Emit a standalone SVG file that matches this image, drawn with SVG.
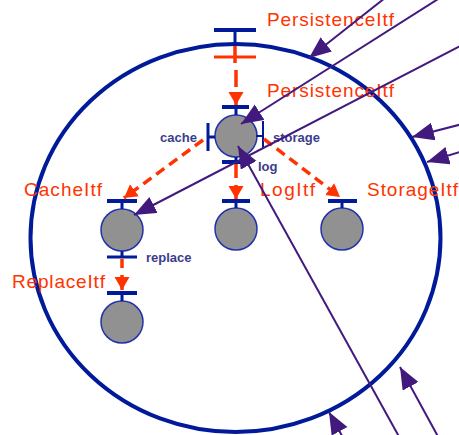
<svg xmlns="http://www.w3.org/2000/svg" width="459" height="435" viewBox="0 0 459 435">
<style>
.bar{stroke:#001a99;stroke-width:4;fill:none}
.stem{stroke:#001a99;stroke-width:3;fill:none}
.node{fill:#919191;stroke:#2233aa;stroke-width:1.5}
.red{stroke:#ff3300;stroke-width:3.5;fill:none}
.dash{stroke:#ff3300;stroke-width:3.5;fill:none;stroke-dasharray:10 6}
.itf{font-family:"Liberation Sans",Arial,sans-serif;font-size:19px;fill:#ff3300}
.port{font-family:"Liberation Sans",Arial,sans-serif;font-size:13px;font-weight:bold;fill:#3c3c8c}
.pl{stroke:#421a7e;stroke-width:2;fill:none}
</style>
<defs>
<marker id="pa" markerUnits="userSpaceOnUse" markerWidth="23" markerHeight="19" refX="22" refY="9" orient="auto"><path d="M0,0 L22,9 L0,18 z" fill="#421a7e"/></marker>
<marker id="ra" markerUnits="userSpaceOnUse" markerWidth="14" markerHeight="16" refX="13" refY="7.5" orient="auto"><path d="M0,0 L13,7.5 L0,15 z" fill="#ff3300"/></marker>
</defs>
<g id="composite">
<ellipse cx="235.5" cy="238" rx="205" ry="194" fill="none" stroke="#001a99" stroke-width="4"/>
<line class="bar" x1="214" y1="30" x2="256" y2="30"/>
<line class="stem" x1="235" y1="32" x2="235" y2="43"/>
<line class="red" x1="235" y1="46" x2="235" y2="63"/>
<line x1="214" y1="57" x2="256" y2="57" stroke="#ff3300" stroke-width="3"/>
</g>
<g id="persistence">
<circle class="node" cx="236" cy="136" r="21"/>
<line class="bar" x1="222" y1="107" x2="249" y2="107"/>
<line class="stem" x1="236" y1="109" x2="236" y2="115"/>
<line class="stem" x1="208" y1="123" x2="208" y2="151"/>
<line class="stem" x1="208" y1="137" x2="215" y2="137"/>
<line x1="263" y1="121" x2="263" y2="148" stroke="#001a99" stroke-width="2"/>
<line x1="256" y1="136" x2="263" y2="136" stroke="#001a99" stroke-width="2"/>
<line class="stem" x1="236" y1="157" x2="236" y2="162"/>
<line class="bar" x1="222" y1="162" x2="249" y2="162"/>
</g>
<g id="cache">
<circle class="node" cx="122" cy="230" r="21"/>
<line class="bar" x1="107" y1="201" x2="137" y2="201"/>
<line class="stem" x1="122" y1="203" x2="122" y2="209"/>
<line class="stem" x1="122" y1="251" x2="122" y2="257"/>
<line class="stem" x1="107" y1="257" x2="137" y2="257"/>
</g>
<g id="replace">
<circle class="node" cx="122" cy="322" r="21"/>
<line class="bar" x1="107" y1="293" x2="137" y2="293"/>
<line class="stem" x1="122" y1="295" x2="122" y2="301"/>
</g>
<g id="log">
<circle class="node" cx="236" cy="229" r="21"/>
<line class="bar" x1="222" y1="201" x2="250" y2="201"/>
<line class="stem" x1="236" y1="203" x2="236" y2="208"/>
</g>
<g id="storage">
<circle class="node" cx="342" cy="229" r="21"/>
<line class="bar" x1="328" y1="201" x2="357" y2="201"/>
<line class="stem" x1="342" y1="203" x2="342" y2="208"/>
</g>
<g id="bindings">
<path class="red" d="M236,70 V87"/>
<path class="red" d="M236,92 V105" marker-end="url(#ra)"/>
<path class="red" d="M236,164 V178"/>
<path class="red" d="M236,185 V199" marker-end="url(#ra)"/>
<path class="dash" d="M203,140 L124,198" marker-end="url(#ra)"/>
<path class="dash" d="M264,139 L340,197" marker-end="url(#ra)"/>
<path class="red" d="M122,259 V268"/>
<path class="red" d="M122,275 V290" marker-end="url(#ra)"/>
</g>
<g id="labels">
<text class="itf" x="267" y="26" textLength="127" lengthAdjust="spacing">PersistenceItf</text>
<text class="itf" x="267" y="97" textLength="127" lengthAdjust="spacing">PersistenceItf</text>
<text class="itf" x="24" y="196" textLength="78" lengthAdjust="spacing">CacheItf</text>
<text class="itf" x="260" y="196" textLength="55" lengthAdjust="spacing">LogItf</text>
<text class="itf" x="367" y="196" textLength="91" lengthAdjust="spacing">StorageItf</text>
<text class="itf" x="12" y="288" textLength="93" lengthAdjust="spacing">ReplaceItf</text>
<text class="port" x="160" y="142">cache</text>
<text class="port" x="273" y="142">storage</text>
<text class="port" x="258" y="171">log</text>
<text class="port" x="146" y="262">replace</text>
</g>
<g id="connectors">
<line class="pl" x1="390" y1="-6" x2="309" y2="58" marker-end="url(#pa)"/>
<line class="pl" x1="446" y1="-6" x2="241" y2="124" marker-end="url(#pa)"/>
<line class="pl" x1="470" y1="41" x2="134" y2="215" marker-end="url(#pa)"/>
<line class="pl" x1="402" y1="442" x2="238" y2="146" marker-end="url(#pa)"/>
<line class="pl" x1="441" y1="442" x2="400" y2="367" marker-end="url(#pa)"/>
<line class="pl" x1="347" y1="445" x2="329" y2="412" marker-end="url(#pa)"/>
<line class="pl" x1="470" y1="122" x2="412" y2="137" marker-end="url(#pa)"/>
<line class="pl" x1="470" y1="149" x2="427" y2="162" marker-end="url(#pa)"/>
</g>
</svg>
